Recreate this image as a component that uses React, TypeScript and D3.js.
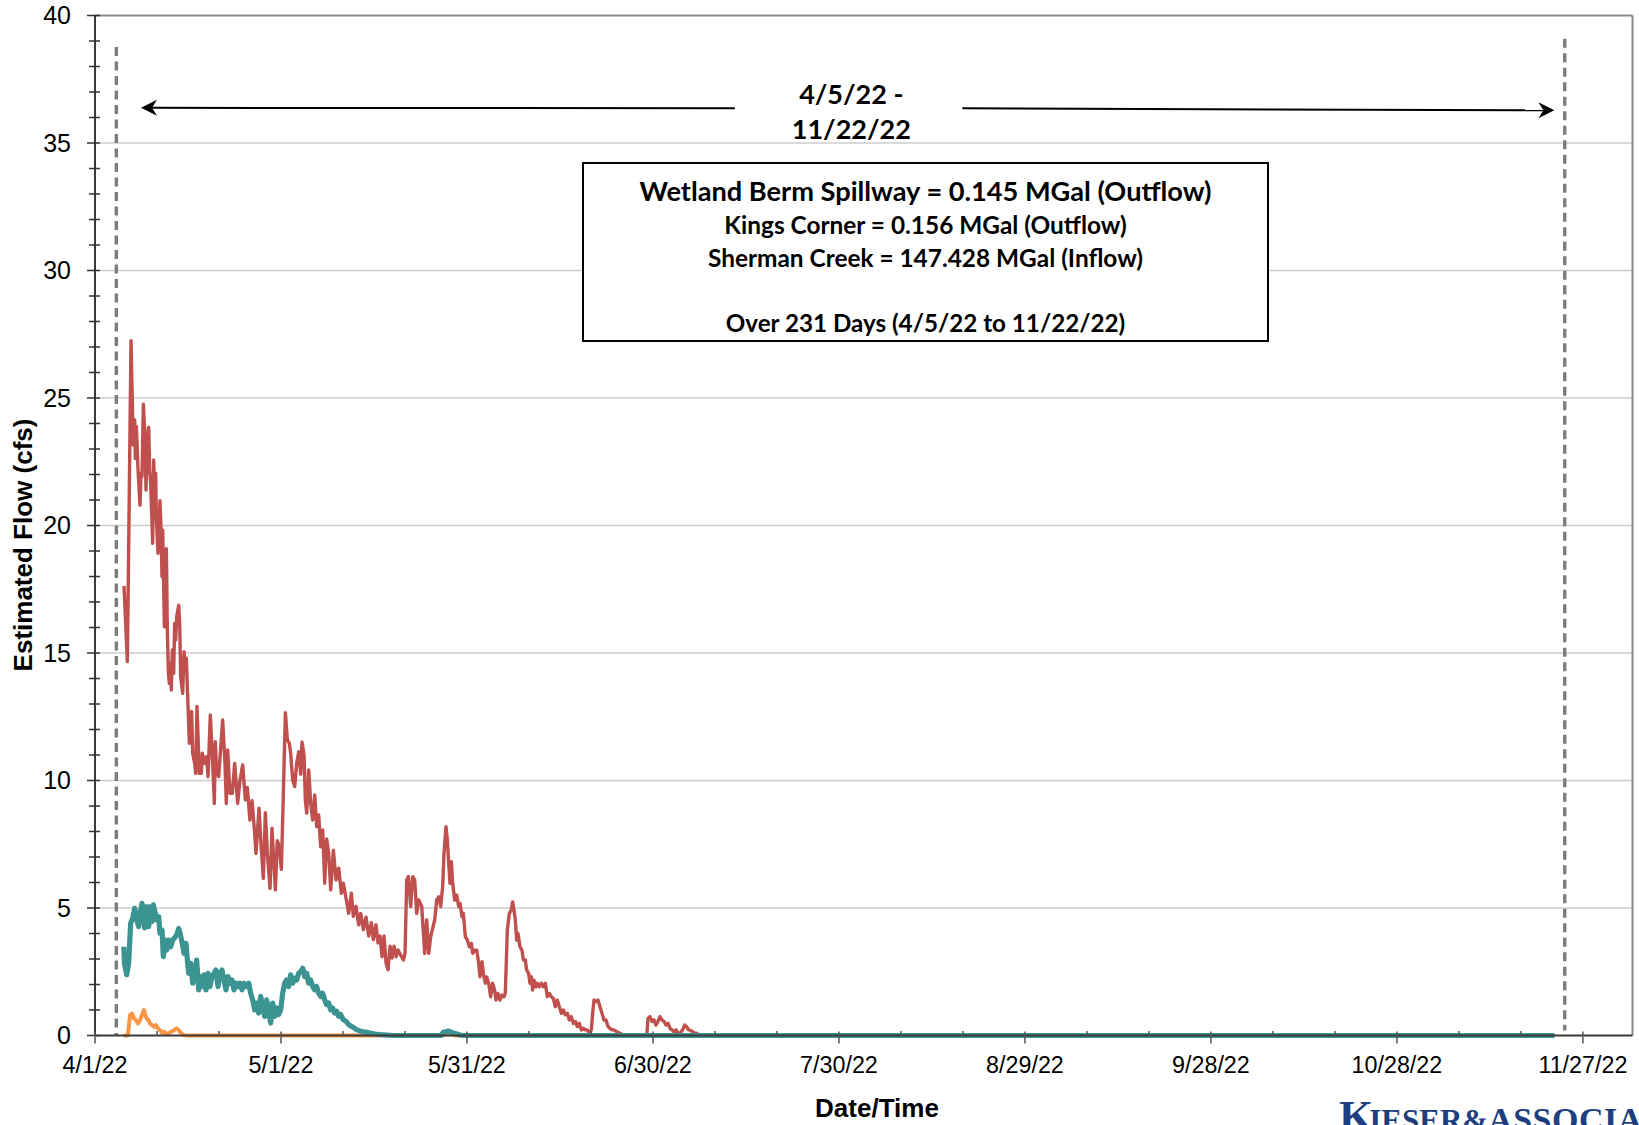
import React, { useEffect } from "react";
import * as d3 from "d3";

// ---- chart data (x = days since 4/1/22 00:00, y = estimated flow in cfs) ----

const shermanCreek: [number, number][] = [
  [4.68, 17.63], [5.22, 14.66], [5.81, 27.25], [6.08, 24.14], [6.13, 23.16], [6.4, 24.14], [6.51, 22.63],
  [6.67, 23.88], [6.94, 22.18], [7.26, 20.8], [7.42, 22.05], [7.58, 21.92], [7.8, 24.76], [8.01, 23.74],
  [8.23, 21.39], [8.44, 23.35], [8.66, 23.85], [8.82, 22.18], [8.98, 21.65], [9.3, 19.3], [9.46, 22.57],
  [9.63, 21.39], [9.79, 22.05], [9.89, 20.35], [10.16, 18.91], [10.48, 20.97], [10.65, 19.82], [10.81, 17.99],
  [10.92, 19.82], [11.19, 16.03], [11.51, 19.09], [11.67, 15.9], [11.83, 14.27], [11.99, 13.81], [12.15, 14.6],
  [12.31, 13.55], [12.47, 15.12], [12.69, 14.2], [12.85, 16.16], [13.01, 15.51], [13.17, 16.42], [13.5, 16.87],
  [13.66, 16.16], [13.82, 14.07], [14.14, 13.42], [14.36, 15.05], [14.57, 14.6], [14.73, 14.8], [14.95, 13.29],
  [15.22, 11.46], [15.43, 12.63], [15.59, 12.7], [15.76, 11.07], [16.08, 10.67], [16.24, 10.28], [16.45, 12.9],
  [16.83, 10.28], [17.15, 10.28], [17.31, 11.07], [17.69, 10.67], [18.01, 10.93], [18.23, 10.15], [18.6, 12.57],
  [19.03, 10.41], [19.25, 9.1], [19.41, 11.52], [19.62, 10.28], [19.95, 10.15], [20.59, 12.37], [20.97, 10.67],
  [21.18, 9.1], [21.4, 11.2], [21.77, 9.5], [22.15, 9.5], [22.53, 10.67], [23.01, 9.1], [23.39, 10.02],
  [23.82, 10.61], [24.25, 9.24], [24.57, 9.73], [24.99, 8.45], [25.33, 9.21], [25.76, 7.93], [25.97, 7.14],
  [26.45, 8.91], [26.78, 7.47], [27.15, 6.16], [27.48, 8.74], [27.8, 7.14], [28.23, 5.77], [28.55, 8.13],
  [28.77, 7.14], [29.09, 5.71], [29.41, 7.64], [29.73, 7.4], [30.06, 6.52], [30.38, 9.5], [30.71, 12.66],
  [31.03, 11.59], [31.35, 11.46], [31.57, 11.04], [31.89, 10.02], [32.21, 9.76], [32.53, 10.67], [32.86, 11.13],
  [33.18, 10.25], [33.39, 11.51], [33.72, 10.99], [33.93, 9.24], [34.15, 8.72], [34.47, 10.41], [34.79, 9.11],
  [35.11, 8.45], [35.44, 9.43], [35.76, 8.19], [36.08, 8.65], [36.4, 7.4], [36.73, 8.06], [37.05, 5.97],
  [37.37, 7.71], [37.7, 7.14], [38.02, 5.71], [38.45, 7.27], [38.88, 6.1], [39.31, 6.56], [39.74, 5.58],
  [40.06, 5.97], [40.49, 5.38], [40.92, 4.79], [41.35, 5.58], [41.67, 4.67], [42.1, 5.06], [42.53, 4.34],
  [42.86, 4.79], [43.29, 4.15], [43.72, 4.64], [44.15, 3.9], [44.58, 4.42], [44.9, 3.76], [45.33, 4.34],
  [45.65, 3.63], [45.98, 3.9], [46.3, 3.09], [46.62, 3.9], [46.95, 2.83], [47.27, 2.58], [47.59, 3.5],
  [47.92, 3.04], [48.24, 3.5], [48.56, 3.09], [48.88, 3.35], [49.31, 3.15], [49.74, 2.96], [50.01, 3.22],
  [50.28, 6.1], [50.55, 6.23], [50.92, 5.06], [51.25, 6.23], [51.57, 6.1], [51.89, 4.79], [52.21, 5.32],
  [52.7, 5.06], [53.18, 3.22], [53.5, 4.53], [53.83, 3.22], [54.15, 3.88], [54.79, 4.53], [55.11, 5.31],
  [55.44, 5.44], [55.76, 5.06], [56.08, 5.84], [56.29, 7.14], [56.62, 8.19], [56.83, 7.67], [57.05, 6.75],
  [57.26, 5.97], [57.48, 6.82], [57.69, 5.97], [58.02, 5.31], [58.34, 5.51], [58.66, 5.06], [58.88, 5.18],
  [59.2, 4.66], [59.41, 4.79], [59.74, 3.88], [60.06, 3.74], [60.38, 3.48], [60.71, 3.61], [60.92, 3.22],
  [61.24, 3.35], [61.57, 3.35], [61.89, 2.83], [62.1, 2.3], [62.43, 2.89], [62.64, 2.43], [62.96, 2.05],
  [63.17, 2.3], [63.5, 2.05], [63.82, 1.52], [64.14, 2.05], [64.46, 1.78], [64.68, 1.39], [65.0, 1.65],
  [65.32, 1.39], [65.65, 1.59], [65.97, 1.52], [66.18, 1.65], [66.51, 4.14], [66.83, 4.79], [67.15, 4.92],
  [67.37, 5.24], [67.58, 4.92], [67.8, 4.53], [68.01, 3.74], [68.23, 4.0], [68.55, 3.48], [68.87, 3.35],
  [69.09, 2.96], [69.41, 2.96], [69.62, 2.57], [69.95, 2.43], [70.16, 2.05], [70.38, 2.3], [70.59, 1.78],
  [70.81, 2.17], [71.13, 1.91], [71.35, 2.05], [71.67, 1.91], [71.99, 2.05], [72.31, 1.91], [72.64, 2.05],
  [72.96, 1.52], [73.28, 1.65], [73.6, 1.52], [73.93, 1.46], [74.25, 1.13], [74.57, 1.39], [74.9, 1.13],
  [75.22, 0.87], [75.54, 1.0], [75.86, 0.81], [76.19, 0.87], [76.51, 0.61], [76.83, 0.74], [77.15, 0.48],
  [77.48, 0.55], [77.8, 0.35], [78.12, 0.48], [78.45, 0.22], [78.77, 0.28], [79.09, 0.22], [79.41, 0.22],
  [79.74, 0.09], [80.06, 0.22], [80.27, 0.87], [80.49, 1.39], [80.81, 1.33], [81.13, 1.39], [81.45, 1.13],
  [81.78, 0.87], [82.1, 0.61], [82.42, 0.61], [82.74, 0.35], [83.07, 0.28], [83.39, 0.22], [83.71, 0.22],
  [84.14, 0.15], [84.68, 0.09], [85.21, 0.02], [85.75, 0], [89.0, 0], [89.2, 0.67], [89.52, 0.74],
  [89.85, 0.55], [90.17, 0.61], [90.49, 0.41], [90.81, 0.55], [91.13, 0.74], [91.46, 0.61], [91.78, 0.55],
  [92.1, 0.41], [92.43, 0.48], [92.75, 0.28], [93.07, 0.22], [93.39, 0.15], [93.72, 0.22], [94.04, 0.09],
  [94.36, 0.09], [94.79, 0.22], [95.11, 0.41], [95.43, 0.35], [95.76, 0.22], [96.08, 0.2], [96.4, 0.15],
  [96.72, 0.09], [97.05, 0.09], [97.37, 0.02], [97.75, 0], [235.4, 0],
];

const kingsCorner: [number, number][] = [
  [4.65, 3.48], [4.75, 2.83], [5.11, 2.38], [5.43, 2.83], [5.75, 4.4], [6.08, 4.6], [6.4, 4.99], [6.72, 4.53],
  [7.04, 4.27], [7.26, 4.79], [7.58, 5.18], [7.8, 4.6], [8.01, 4.22], [8.33, 5.05], [8.66, 4.27], [8.87, 5.05],
  [9.19, 4.47], [9.41, 5.12], [9.73, 4.79], [9.95, 4.53], [10.27, 4.66], [10.48, 4.01], [10.81, 4.14],
  [11.02, 3.09], [11.34, 3.74], [11.56, 3.35], [11.88, 3.74], [12.21, 3.48], [12.53, 3.74], [12.96, 3.87],
  [13.28, 4.01], [13.5, 4.2], [13.71, 4.01], [14.03, 3.68], [14.36, 3.22], [14.68, 3.61], [14.9, 2.96],
  [15.11, 2.44], [15.43, 2.83], [15.76, 2.05], [16.08, 2.44], [16.4, 2.96], [16.72, 1.79], [17.05, 2.31],
  [17.26, 1.92], [17.58, 2.38], [17.91, 1.79], [18.23, 2.44], [18.55, 1.92], [18.87, 2.31], [19.19, 2.44],
  [19.51, 2.57], [19.84, 1.92], [20.16, 2.44], [20.48, 2.57], [20.8, 2.18], [21.12, 1.79], [21.45, 2.31],
  [21.77, 2.05], [22.09, 2.18], [22.42, 1.79], [22.74, 2.05], [23.06, 1.92], [23.39, 2.05], [23.71, 1.79],
  [24.03, 2.05], [24.46, 1.92], [24.79, 2.05], [25.11, 1.66], [25.43, 1.4], [25.76, 1.0], [26.08, 1.27],
  [26.4, 0.88], [26.73, 1.53], [27.05, 1.14], [27.37, 0.75], [27.69, 1.4], [28.02, 0.88], [28.34, 0.49],
  [28.66, 1.27], [28.98, 0.75], [29.31, 1.08], [29.63, 0.82], [29.95, 1.01], [30.27, 1.66], [30.59, 2.05],
  [30.92, 2.18], [31.24, 1.92], [31.56, 2.38], [31.88, 2.05], [32.21, 2.25], [32.53, 2.18], [32.85, 2.44],
  [33.17, 2.5], [33.5, 2.64], [33.82, 2.31], [34.14, 2.44], [34.46, 2.05], [34.78, 2.18], [35.11, 1.92],
  [35.43, 1.79], [35.75, 1.92], [36.07, 1.66], [36.4, 1.53], [36.72, 1.66], [37.04, 1.4], [37.36, 1.21],
  [37.69, 1.27], [38.01, 1.01], [38.33, 1.08], [38.65, 0.88], [38.98, 0.95], [39.3, 0.75], [39.62, 0.82],
  [40.05, 0.62], [40.48, 0.56], [40.91, 0.43], [41.34, 0.36], [41.77, 0.3], [42.2, 0.23], [42.63, 0.19],
  [43.28, 0.14], [43.82, 0.13], [44.36, 0.1], [45.16, 0.06], [45.97, 0.04], [47.05, 0.02], [48.12, 0],
  [55.8, 0], [56.2, 0.13], [57.0, 0.17], [57.8, 0.1], [58.9, 0.02], [59.5, 0], [235.4, 0],
];

const wetlandBerm: [number, number][] = [
  [4.6, 0], [5.32, 0], [5.64, 0.8], [5.97, 0.86], [6.29, 0.67], [6.61, 0.6], [6.93, 0.47], [7.26, 0.6],
  [7.58, 0.8], [7.9, 1.0], [8.12, 0.8], [8.33, 0.67], [8.66, 0.6], [8.87, 0.47], [9.19, 0.41], [9.52, 0.34],
  [9.84, 0.41], [10.16, 0.28], [10.48, 0.21], [10.81, 0.11], [11.13, 0.15], [11.45, 0.08], [11.88, 0.08],
  [12.31, 0.15], [12.74, 0.21], [13.17, 0.28], [13.5, 0.21], [13.82, 0.11], [14.25, 0.02], [14.9, 0],
  [56.0, 0], [56.6, 0.05], [57.6, 0.05], [58.2, 0], [235.4, 0],
];

const xTickDays = [0, 30, 60, 90, 120, 150, 180, 210, 240];
const yTickValues = [0, 5, 10, 15, 20, 25, 30, 35, 40];

const periodLabel = ["4/5/22 -", "11/22/22"];
const summaryHeadline = "Wetland Berm Spillway = 0.145 MGal (Outflow)";
const summaryDetails = ["Kings Corner = 0.156 MGal (Outflow)", "Sherman Creek = 147.428 MGal (Inflow)"];
const summaryFooter = "Over 231 Days (4/5/22 to 11/22/22)";

// reporting window markers (days since 4/1/22)
const windowStartDay = 3.44;
const windowEndDay = 237.07;

// ---- layout ----
const W = 1639;
const H = 1125;
const PLOT = { left: 95, right: 1632.5, top: 15.5, bottom: 1035.5 };
const DAY_MS = 86400000;
const T0 = Date.UTC(2022, 3, 1);
const toDate = (d: number) => new Date(T0 + d * DAY_MS);

const SANS = "'Liberation Sans', Arial, sans-serif";
const CAL = "Lato, 'Open Sans', sans-serif";

export default function App() {
  useEffect(() => {
    document.body.style.margin = "0";
  }, []);

  const x = d3.scaleUtc().domain([toDate(0), toDate(248)]).range([PLOT.left, PLOT.right]);
  const y = d3.scaleLinear().domain([0, 40]).range([PLOT.bottom, PLOT.top]);
  const fmt = d3.utcFormat("%-m/%-d/%y");

  const line = d3
    .line<[number, number]>()
    .x((d) => x(toDate(d[0])))
    .y((d) => y(d[1]));

  const minorX = d3.range(0, 241, 10).filter((d) => d % 30 !== 0);
  const minorY = d3.range(0, 40, 1).filter((v) => v % 5 !== 0);

  // arrows across the reporting window
  const leftArrow = { from: x(toDate(103.2)), to: x(toDate(7.42)), y0: y(36.36), y1: y(36.38) };
  const rightArrow = { from: x(toDate(139.9)), to: x(toDate(235.4)), y0: y(36.36), y1: y(36.28) };
  const head = (tipX: number, tipY: number, dir: number) => {
    const L = 16, Wd = 8, notch = 11;
    return `M${tipX},${tipY} L${tipX + dir * L},${tipY - Wd} L${tipX + dir * notch},${tipY} L${tipX + dir * L},${tipY + Wd} Z`;
  };

  const labelX = x(toDate(122.0));
  const box = { x0: 583, x1: 1268, y0: 163, y1: 341 };
  const boxCx = (box.x0 + box.x1) / 2;

  return (
    <svg
      width={W}
      height={H}
      viewBox={`0 0 ${W} ${H}`}
      style={{ position: "absolute", left: 0, top: 0, display: "block", background: "#fff" }}
    >
      <rect x={0} y={0} width={W} height={H} fill="#fff" />

      {/* horizontal gridlines */}
      {yTickValues
        .filter((v) => v > 0 && v < 40)
        .map((v) => (
          <line key={"g" + v} x1={PLOT.left} x2={PLOT.right} y1={y(v)} y2={y(v)} stroke="#cccccc" strokeWidth={1.4} />
        ))}

      {/* plot frame (top and right) */}
      <line x1={PLOT.left} x2={PLOT.right} y1={PLOT.top} y2={PLOT.top} stroke="#8a8a8a" strokeWidth={2} />
      <line x1={PLOT.right} x2={PLOT.right} y1={PLOT.top} y2={PLOT.bottom} stroke="#8a8a8a" strokeWidth={2} />

      {/* window markers */}
      <line
        x1={x(toDate(windowStartDay))}
        x2={x(toDate(windowStartDay))}
        y1={y(38.76)}
        y2={y(0)}
        stroke="#7c7c7c"
        strokeWidth={3.4}
        strokeDasharray="9 5.5"
      />
      <line
        x1={x(toDate(windowEndDay))}
        x2={x(toDate(windowEndDay))}
        y1={y(39.09)}
        y2={y(0.2)}
        stroke="#7c7c7c"
        strokeWidth={3.4}
        strokeDasharray="9 5.5"
      />

      {/* series */}
      <path d={line(wetlandBerm) || ""} fill="none" stroke="#F79646" strokeWidth={4} strokeLinejoin="round" />
      <path d={line(shermanCreek) || ""} fill="none" stroke="#C0504D" strokeWidth={3.4} strokeLinejoin="round" />
      <path d={line(kingsCorner) || ""} fill="none" stroke="#3B9392" strokeWidth={5.2} strokeLinejoin="round" />

      {/* y axis */}
      <line x1={PLOT.left} x2={PLOT.left} y1={PLOT.top} y2={PLOT.bottom} stroke="#3a3a3a" strokeWidth={2} />
      {minorY.map((v) => (
        <line key={"my" + v} x1={PLOT.left - 6} x2={PLOT.left + 5} y1={y(v)} y2={y(v)} stroke="#333" strokeWidth={1.5} />
      ))}
      {yTickValues.map((v) => (
        <g key={"y" + v}>
          <line x1={PLOT.left - 8} x2={PLOT.left + 5} y1={y(v)} y2={y(v)} stroke="#333" strokeWidth={1.5} />
          <text x={71} y={y(v) + 8.8} textAnchor="end" fontFamily={SANS} fontSize={25} fill="#000">
            {v}
          </text>
        </g>
      ))}

      {/* x axis */}
      <line x1={PLOT.left} x2={PLOT.right} y1={PLOT.bottom} y2={PLOT.bottom} stroke="#3a3a3a" strokeWidth={2} />
      {minorX.map((d) => (
        <line key={"mx" + d} x1={x(toDate(d))} x2={x(toDate(d))} y1={PLOT.bottom - 4.5} y2={PLOT.bottom} stroke="#555" strokeWidth={1.5} />
      ))}
      {xTickDays.map((d) => (
        <g key={"x" + d}>
          <line x1={x(toDate(d))} x2={x(toDate(d))} y1={PLOT.bottom - 4} y2={PLOT.bottom + 8} stroke="#555" strokeWidth={1.5} />
          <text x={x(toDate(d))} y={1072.5} textAnchor="middle" fontFamily={SANS} fontSize={23.3} fill="#000">
            {fmt(toDate(d))}
          </text>
        </g>
      ))}

      {/* axis titles */}
      <text x={877} y={1117} textAnchor="middle" fontFamily={SANS} fontWeight="bold" fontSize={26} fill="#000">
        Date/Time
      </text>
      <text
        transform={`translate(32,545) rotate(-90)`}
        textAnchor="middle"
        fontFamily={SANS}
        fontWeight="bold"
        fontSize={26}
        fill="#000"
      >
        Estimated Flow (cfs)
      </text>

      {/* reporting window arrows */}
      <line x1={leftArrow.from} y1={leftArrow.y0} x2={leftArrow.to + 11} y2={leftArrow.y1} stroke="#000" strokeWidth={2} />
      <path d={head(leftArrow.to, leftArrow.y1, 1)} fill="#000" />
      <line x1={rightArrow.from} y1={rightArrow.y0} x2={rightArrow.to - 11} y2={rightArrow.y1} stroke="#000" strokeWidth={2} />
      <path d={head(rightArrow.to, rightArrow.y1, -1)} fill="#000" />
      <text x={labelX} y={103.5} textAnchor="middle" fontFamily={CAL} fontWeight="bold" fontSize={27} fill="#000">
        {periodLabel[0]}
      </text>
      <text x={labelX} y={138.5} textAnchor="middle" fontFamily={CAL} fontWeight="bold" fontSize={27} fill="#000">
        {periodLabel[1]}
      </text>

      {/* totals box */}
      <rect x={box.x0} y={box.y0} width={box.x1 - box.x0} height={box.y1 - box.y0} fill="#fff" stroke="#000" strokeWidth={2} />
      <text x={boxCx} y={200.5} textAnchor="middle" fontFamily={CAL} fontWeight="bold" fontSize={27.2} fill="#000">
        {summaryHeadline}
      </text>
      {summaryDetails.map((s, i) => (
        <text key={s} x={boxCx} y={234 + i * 32.5} textAnchor="middle" fontFamily={CAL} fontWeight="bold" fontSize={24.4} fill="#000">
          {s}
        </text>
      ))}
      <text x={boxCx} y={331.5} textAnchor="middle" fontFamily={CAL} fontWeight="bold" fontSize={24.2} fill="#000">
        {summaryFooter}
      </text>

      {/* company logo, cropped at the page edge */}
      <text x={1339} y={1131} fontFamily="'Liberation Serif', 'DejaVu Serif', serif" fill="#1d3f7f" fontWeight="bold">
        <tspan fontSize={44}>K</tspan>
        <tspan fontSize={31} dx={-4}>IESER</tspan>
        <tspan fontSize={31}>&amp;</tspan>
        <tspan fontSize={34} letterSpacing={0.5}>ASSOCIATES</tspan>
      </text>
    </svg>
  );
}
